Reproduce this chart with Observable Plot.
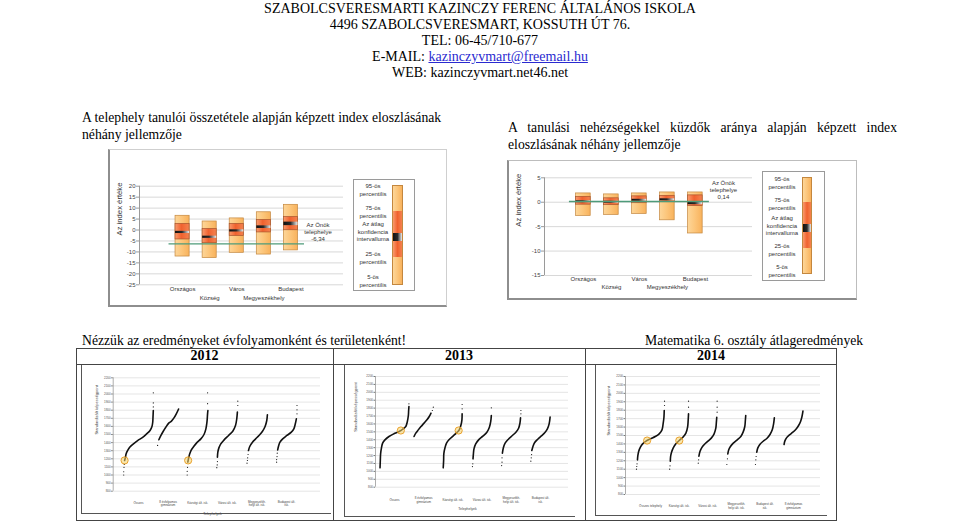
<!DOCTYPE html>
<html><head><meta charset="utf-8">
<script src="https://cdn.jsdelivr.net/npm/d3@7"></script>
<script src="https://cdn.jsdelivr.net/npm/@observablehq/plot@0.6"></script>
<style>
body{margin:0;background:#fff;}
#page{position:relative;width:960px;height:524px;overflow:hidden;font-family:"Liberation Serif","Times New Roman",serif;color:#000;background:#fff;}
.abs{position:absolute;}
.hdr{position:absolute;left:0;width:960px;text-align:center;font-size:14px;line-height:16px;}
.hdr a{color:#2a2ad0;text-decoration:underline;}
.para{position:absolute;font-size:13.7px;line-height:17px;white-space:nowrap;}
.leg{position:absolute;border:1px solid #9a9a9a;box-sizing:border-box;background:#fff;}
.legtxt{position:absolute;width:44px;text-align:center;font-family:"Liberation Sans",Arial,sans-serif;font-size:6px;line-height:7.5px;color:#333;}
.seg{position:absolute;left:0;width:100%;}
.line{position:absolute;background:#444;}
.year{position:absolute;font-weight:bold;font-size:14px;text-align:center;line-height:16px;}
</style></head>
<body>
<svg width="0" height="0" style="position:absolute">
 <defs>
  <linearGradient id="gLight" x1="0" x2="1" y1="0" y2="0">
   <stop offset="0" stop-color="#fdd699"/><stop offset="0.5" stop-color="#fcc57a"/><stop offset="1" stop-color="#f8b25c"/>
  </linearGradient>
  <linearGradient id="gRed" x1="0" x2="1" y1="0" y2="0">
   <stop offset="0" stop-color="#f99a6c"/><stop offset="0.45" stop-color="#f0622f"/><stop offset="1" stop-color="#f4824f"/>
  </linearGradient>
  <linearGradient id="gCI" x1="0" x2="1" y1="0" y2="0">
   <stop offset="0" stop-color="#111"/><stop offset="0.5" stop-color="#2a2a2a"/><stop offset="1" stop-color="#eeeeee"/>
  </linearGradient>
 </defs>
</svg>
<div id="page"></div>
<script>
// ---------- Top charts: index distributions ----------
const boxCategories = ["Országos", "Község", "Város", "Megyeszékhely", "Budapest"];

// A telephely tanulói összetétele alapján képzett index
const compP5   = [-12.1, -12.8, -10.4, -11.2, -9.3];
const compP25  = [-4.3, -6.0, -2.7, -1.1, -0.1];
const compMean = [-1.1, -3.3, -0.4, 1.3, 2.8];
const compP75  = [2.8, 0.5, 2.8, 4.6, 5.9];
const compP95  = [6.5, 3.9, 5.3, 8.1, 11.5];
const compCI   = [0.5, 0.5, 0.5, 0.6, 0.8];
const compSite = -6.34;
const compTicks = [20, 15, 10, 5, 0, -5, -10, -15, -20, -25];

// A tanulási nehézségekkel küzdők aránya alapján képzett index
const ldP5   = [-2.8, -2.6, -2.4, -3.7, -6.4];
const ldP25  = [-0.5, -0.6, -0.2, 0.0, -0.8];
const ldMean = [0.1, 0.0, 0.4, 0.5, -0.2];
const ldP75  = [1.1, 0.8, 1.2, 1.3, 1.4];
const ldP95  = [1.8, 1.6, 1.8, 2.0, 2.0];
const ldCI   = [0.2, 0.2, 0.2, 0.2, 0.3];
const ldSite = 0.14;
const ldTicks = [5, 0, -5, -10, -15];

const legendLabels = [["95-ös", "percentilis"], ["75-ös", "percentilis"], ["Az átlag", "konfidencia", "intervalluma"], ["25-ös", "percentilis"], ["5-ös", "percentilis"]];

// ---------- Bottom charts: Matematika 6. osztály ----------
const scoreTicks = [800, 900, 1000, 1100, 1200, 1300, 1400, 1500, 1600, 1700, 1800, 1900, 2000, 2100, 2200];
const years = ["2012", "2013", "2014"];

const cats2012 = ["Összes", "8 évfolyamos\ngimnázium", "Községi ált. isk.", "Városi ált. isk.", "Megyeszékh.\nhelyi ált. isk.", "Budapest ált.\nisk."];
const rankWidth2012 = [1.0, 0.71, 0.71, 0.71, 0.71, 0.71];
const curves2012 = [
  [[0.03,1180],[0.06,1220],[0.08,1260],[0.13,1300],[0.21,1345],[0.33,1385],[0.47,1425],[0.64,1465],[0.78,1510],[0.89,1550],[0.955,1600],[0.98,1650],[0.99,1715],[1,1795]],
  [[0.06,1435],[0.16,1488],[0.27,1540],[0.39,1590],[0.53,1640],[0.66,1665],[0.78,1705],[0.89,1755],[1,1815]],
  [[0.03,1160],[0.06,1200],[0.11,1253],[0.18,1302],[0.31,1352],[0.46,1400],[0.65,1446],[0.8,1500],[0.89,1570],[0.94,1652],[0.97,1755],[0.985,1796]],
  [[0.03,1220],[0.05,1282],[0.1,1335],[0.19,1385],[0.35,1434],[0.56,1488],[0.76,1541],[0.89,1611],[0.95,1693],[0.98,1776]],
  [[0.1,1302],[0.16,1352],[0.29,1405],[0.44,1446],[0.6,1488],[0.76,1537],[0.89,1599],[0.97,1673],[1,1743]],
  [[0.08,1310],[0.13,1364],[0.19,1405],[0.32,1446],[0.52,1488],[0.73,1529],[0.85,1570],[0.92,1632],[0.97,1693]]
];
const tails2012 = [
  [[0,1000],[0,1040],[0.01,1095],[0.02,1130],[1,1840],[1,1890],[1,2015]],
  [[0,1365]],
  [[0,1000],[0,1045],[0.015,1095],[0.97,1880],[0.97,2015]],
  [[0,1090],[0.02,1125],[0.03,1166],[1,1858],[1,1912]],
  [[0.03,1146],[0.05,1179],[0.06,1212],[0.08,1253]],
  [[0.03,1158],[0.03,1191],[0.05,1228],[0.06,1269],[1,1755],[1,1805],[1,1858]]
];
const siteScore2012 = 1180, siteCats2012 = [0, 2], siteRanks2012 = [0.03, 0.045];

const cats2013 = ["Összes", "8 évfolyamos\ngimnázium", "Községi ált. isk.", "Városi ált. isk.", "Megyeszékh.\nhelyi ált. isk.", "Budapest ált.\nisk."];
const rankWidth2013 = [0.99, 0.66, 0.66, 0.66, 0.66, 0.66];
const curves2013 = [
  [[0,1045],[0.01,1137],[0.02,1222],[0.05,1298],[0.09,1357],[0.17,1399],[0.31,1441],[0.48,1475],[0.66,1504],[0.79,1534],[0.89,1567],[0.94,1622],[0.98,1707],[0.99,1770],[1,1820]],
  [[0,1441],[0.09,1483],[0.22,1525],[0.36,1567],[0.52,1610],[0.67,1652],[0.79,1694],[0.88,1736]],
  [[0,1045],[0.02,1137],[0.03,1222],[0.09,1298],[0.17,1357],[0.31,1403],[0.52,1449],[0.69,1487],[0.83,1525],[0.91,1576],[0.97,1652],[0.98,1728]],
  [[0.03,1158],[0.05,1222],[0.08,1285],[0.17,1348],[0.32,1399],[0.54,1445],[0.75,1496],[0.88,1559],[0.95,1631],[0.98,1707]],
  [[0.04,1230],[0.09,1298],[0.18,1357],[0.35,1407],[0.56,1454],[0.74,1496],[0.88,1546],[0.95,1610],[0.98,1677]],
  [[0.05,1264],[0.11,1315],[0.2,1365],[0.36,1407],[0.55,1449],[0.73,1492],[0.86,1538],[0.95,1601],[1,1686]]
];
const tails2013 = [
  [[1,1854]],
  [[0.95,1770],[1,1812]],
  [[0.98,1791],[0.98,1846]],
  [[0,1061],[0.02,1095],[0.98,1804]],
  [[0,1074],[0.02,1116],[0.02,1171],[1,1728],[1,1770]],
  [[0,1129],[0.02,1171],[0.04,1213]]
];
const siteScore2013 = 1517, siteCats2013 = [0, 2], siteRanks2013 = [0.72, 0.8];

const cats2014 = ["Összes telephely", "Községi ált. isk.", "Városi ált. isk.", "Megyeszékh.\nhelyi ált. isk.", "Budapest ált.\nisk.", "8 évfolyamos\ngimnázium"];
const rankWidth2014 = [0.98, 0.66, 0.66, 0.66, 0.66, 0.66];
const curves2014 = [
  [[0.035,1211],[0.05,1263],[0.08,1314],[0.14,1362],[0.22,1401],[0.34,1433],[0.49,1460],[0.67,1488],[0.81,1520],[0.91,1567],[0.95,1638],[0.98,1717],[0.99,1797]],
  [[0.035,1195],[0.05,1251],[0.1,1302],[0.19,1354],[0.33,1401],[0.51,1441],[0.7,1480],[0.86,1528],[0.95,1599],[0.98,1678],[1,1757]],
  [[0.035,1255],[0.09,1310],[0.18,1354],[0.32,1393],[0.51,1433],[0.7,1472],[0.84,1520],[0.93,1587],[0.96,1658],[0.98,1717]],
  [[0.05,1282],[0.1,1330],[0.19,1369],[0.34,1409],[0.55,1449],[0.74,1488],[0.86,1540],[0.95,1607],[0.98,1678],[1,1737]],
  [[0.07,1302],[0.12,1350],[0.23,1393],[0.39,1429],[0.6,1464],[0.77,1512],[0.89,1567],[0.96,1638],[1,1710]],
  [[0,1393],[0.04,1433],[0.13,1472],[0.27,1504],[0.45,1536],[0.63,1575],[0.77,1619],[0.88,1670],[0.95,1725],[1,1789]]
];
const tails2014 = [
  [[0,1100],[0.01,1132],[0.02,1164],[1,1856],[1,1907]],
  [[0,1100],[0.02,1140],[1,1836],[1,1907]],
  [[0,1172],[0.02,1211],[1,1777],[1,1836],[1,1907]],
  [[0,1156],[0.03,1223]],
  [[0,1156],[0.02,1211],[0.035,1251]],
  []
];
const siteScore2014 = 1440, siteCats2014 = [0, 1], siteRanks2014 = [0.38, 0.51];

// ---------- page scaffolding ----------
const page = document.getElementById("page");
function add(html) { page.insertAdjacentHTML("beforeend", html); }
function place(el, left, top) { el.style.position = "absolute"; el.style.left = left + "px"; el.style.top = top + "px"; page.appendChild(el); }

add(`<div class="hdr" style="top:1px">SZABOLCSVERESMARTI KAZINCZY FERENC ÁLTALÁNOS ISKOLA<br>4496 SZABOLCSVERESMART, KOSSUTH ÚT 76.<br>TEL: 06-45/710-677<br>E-MAIL: <a>kazinczyvmart@freemail.hu</a><br>WEB: kazinczyvmart.net46.net</div>`);
add(`<div class="para" style="left:82px;top:109px">A telephely tanulói összetétele alapján képzett index eloszlásának<br>néhány jellemzője</div>`);
add(`<div class="para" style="left:508px;top:119px;width:389px;white-space:normal"><div style="text-align:justify;text-align-last:justify">A tanulási nehézségekkel küzdők aránya alapján képzett index</div><div>eloszlásának néhány jellemzője</div></div>`);

// frames of top charts
add(`<div class="abs" style="left:108px;top:149px;width:339px;height:158px;box-sizing:border-box;border:1px solid #cfcfcf;border-left:2px solid #8e8e8e;border-bottom:2px solid #8e8e8e"></div>`);
add(`<div class="abs" style="left:507px;top:160px;width:350px;height:140px;box-sizing:border-box;border:1px solid #bdbdbd;border-left:2px solid #8e8e8e;border-bottom:2px solid #8e8e8e"></div>`);

function boxChart(o) {
  const n = boxCategories.length;
  const rows = boxCategories.map((c, i) => ({i, c, p5: o.p5[i], p25: o.p25[i], mean: o.mean[i], p75: o.p75[i], p95: o.p95[i], ci: o.ci[i]}));
  const yMin = d3.min(o.ticks), yMax = d3.max(o.ticks);
  const label = `Az Önök\ntelephelye\n${String(o.site).replace(".", ",")}`;
  const hw = 0.26;
  return Plot.plot({
    width: o.width, height: o.height,
    marginLeft: o.ml, marginRight: o.mr, marginTop: o.mt, marginBottom: o.mb,
    x: {domain: o.xDomain, axis: null},
    y: {domain: [yMin, yMax], label: null},
    style: {fontFamily: "'Liberation Sans', Arial, sans-serif", fontSize: "6px", color: "#333", background: "transparent", overflow: "visible"},
    marks: [
      Plot.gridY({ticks: o.ticks, stroke: "#d8d8d8", strokeOpacity: 1}),
      Plot.ruleX([o.xDomain[0]], {stroke: "#9a9a9a"}),
      Plot.axisY({ticks: o.ticks, tickSize: 3, tickPadding: 1, label: null, stroke: "#9a9a9a", fill: "#444", fontSize: 6, tickFormat: d => String(d)}),
      Plot.text(["Az index értéke"], {frameAnchor: "left", rotate: -90, dx: o.titleDx, fontSize: 7.7, fill: "#333"}),
      Plot.rect(rows, {x1: d => d.i - hw, x2: d => d.i + hw, y1: "p5", y2: "p95", fill: "url(#gLight)", stroke: "#c4873e", strokeWidth: 0.7}),
      Plot.rect(rows, {x1: d => d.i - hw, x2: d => d.i + hw, y1: "p25", y2: "p75", fill: "url(#gRed)", stroke: "#a8552e", strokeWidth: 0.7}),
      Plot.rect(rows, {x1: d => d.i - hw, x2: d => d.i + hw, y1: d => d.mean - d.ci, y2: d => d.mean + d.ci, fill: "url(#gCI)"}),
      Plot.ruleY([o.site], {x1: -0.5, x2: n - 0.5, stroke: "#4e9b7a", strokeWidth: 1.4}),
      Plot.text([label], {x: () => n, y: () => o.site, dy: -12, lineHeight: 1.2, fill: "#333", fontSize: 6}),
      Plot.text(rows.filter(d => d.i % 2 === 0), {x: "i", y: () => yMin, text: "c", dy: o.lab1, fill: "#333", fontSize: 6}),
      Plot.text(rows.filter(d => d.i % 2 === 1), {x: "i", y: () => yMin, text: "c", dy: o.lab2, fill: "#333", fontSize: 6})
    ]
  });
}

place(boxChart({p5: compP5, p25: compP25, mean: compMean, p75: compP75, p95: compP95, ci: compCI, site: compSite, ticks: compTicks,
  width: 339, height: 158, ml: 31, mr: 104, mt: 36.7, mb: 22.7, xDomain: [-1.59, 5.94], lab1: 4, lab2: 13, titleDx: -20}), 108, 149);
place(boxChart({p5: ldP5, p25: ldP25, mean: ldMean, p75: ldP75, p95: ldP95, ci: ldCI, site: ldSite, ticks: ldTicks,
  width: 350, height: 140, ml: 37, mr: 105, mt: 17.3, mb: 25, xDomain: [-1.39, 6.04], lab1: 4, lab2: 12, titleDx: -26}), 507, 160);

// legends (HTML)
function legend(box, bar, segs, labelX, labelYs) {
  let h = `<div class="leg" style="left:${box[0]}px;top:${box[1]}px;width:${box[2]}px;height:${box[3]}px"></div>`;
  h += `<div class="abs" style="left:${bar[0]}px;top:${bar[1]}px;width:${bar[2]}px;height:${bar[3]}px;box-sizing:border-box;border:0.7px solid #c4873e;overflow:hidden">`;
  let y = 0;
  const fills = ["linear-gradient(90deg,#fdd699,#fcc57a,#f8b25c)", "linear-gradient(90deg,#f99a6c,#f0622f,#f4824f)", "linear-gradient(90deg,#111,#2a2a2a,#eee)", "linear-gradient(90deg,#f99a6c,#f0622f,#f4824f)", "linear-gradient(90deg,#fdd699,#fcc57a,#f8b25c)"];
  segs.forEach((s, k) => { h += `<div class="seg" style="top:${y}px;height:${s}px;background:${fills[k]}"></div>`; y += s; });
  h += `</div>`;
  legendLabels.forEach((lines, k) => {
    const top = labelYs[k] - 3.75;
    h += `<div class="legtxt" style="left:${labelX - 22}px;top:${top}px">${lines.join("<br>")}</div>`;
  });
  add(h);
}
legend([353, 179, 62, 112], [392, 185, 11, 100], [25, 22, 8, 16, 29], 373, [187, 209, 225, 255, 278]);
legend([762, 171, 63, 110], [802, 177, 10, 97], [24, 22, 8, 16, 27], 782, [180, 201, 219, 247, 268]);

// ---------- bottom section ----------
add(`<div class="para" style="left:82px;top:332px;line-height:17px">Nézzük az eredményeket évfolyamonként és területenként!</div>`);
add(`<div class="para" style="left:645px;top:332px;line-height:17px">Matematika 6. osztály átlageredmények</div>`);
// table
add(`<div class="abs" style="left:76px;top:348px;width:761px;height:173px;box-sizing:border-box;border:1px solid #444"></div>`);
add(`<div class="line" style="left:76px;top:364px;width:761px;height:1px"></div>`);
add(`<div class="line" style="left:333px;top:348px;width:1px;height:173px"></div>`);
add(`<div class="line" style="left:585px;top:348px;width:1px;height:173px"></div>`);
const colBounds = [[76, 333], [333, 585], [585, 837]];
years.forEach((yr, k) => add(`<div class="year" style="left:${colBounds[k][0]}px;width:${colBounds[k][1] - colBounds[k][0]}px;top:348px">${yr}</div>`));
// inner chart frames (left + bottom)
[[81, 365, 250, 149], [344, 365, 231, 152], [595, 365, 232, 151]].forEach(f => {
  add(`<div class="abs" style="left:${f[0]}px;top:${f[1]}px;width:${f[2]}px;height:${f[3]}px;box-sizing:border-box;border-left:1px solid #555;border-bottom:1px solid #555"></div>`);
});

function curveChart(o) {
  const rows = [], tails = [], sites = [];
  o.curves.forEach((pts, i) => pts.forEach(([f, s]) => rows.push({cat: i, x: i + (f - 0.5) * o.widths[i], s})));
  o.tails.forEach((pts, i) => pts.forEach(([f, s]) => tails.push({x: i + (f - 0.5) * o.widths[i], s})));
  o.siteCats.forEach((c, k) => sites.push({x: c + (o.siteRanks[k] - 0.5) * o.widths[c], s: o.siteScore}));
  const labels = o.cats.map((c, i) => ({i, c}));
  const marks = [
    Plot.gridY({ticks: scoreTicks, stroke: "#d4d4d4", strokeOpacity: 1, strokeWidth: 0.6}),
    Plot.ruleX([o.xDomain[0]], {stroke: "#777", strokeWidth: 0.6}),
    Plot.axisY({ticks: scoreTicks, tickSize: 1.5, tickPadding: 1, label: null, stroke: "#777", fill: "#555", fontSize: 3, tickFormat: d => String(d)}),
    Plot.text(["Standardizált képességpont"], {frameAnchor: "left", rotate: -90, dx: o.titleDx, fontSize: 4, fill: "#444"}),
    Plot.text(labels, {x: "i", y: () => 800, text: "c", dy: o.labDy, fontSize: 3, fill: "#444", lineAnchor: "middle", lineHeight: 1.15}),
    Plot.line(rows, {x: "x", y: "s", z: "cat", stroke: "#111", strokeWidth: 1.6, curve: "catmull-rom"}),
    Plot.dot(tails, {x: "x", y: "s", r: 0.6, fill: "#111"}),
    Plot.dot(sites, {x: "x", y: "s", r: 3.6, fill: "#f6d36a", fillOpacity: 0.55, stroke: "#e69a1f", strokeWidth: 0.9})
  ];
  if (o.xTitle) marks.push(Plot.text(["Telephelyek"], {x: () => 2.5, y: () => 800, dy: o.xTitleDy, fontSize: 3.5, fill: "#444"}));
  return Plot.plot({
    width: o.width, height: o.height,
    marginLeft: o.ml, marginRight: o.mr, marginTop: o.mt, marginBottom: o.mb,
    x: {domain: o.xDomain, axis: null},
    y: {domain: [800, 2200], label: null},
    style: {fontFamily: "'Liberation Sans', Arial, sans-serif", fontSize: "3px", background: "transparent", overflow: "visible"},
    marks
  });
}

place(curveChart({cats: cats2012, curves: curves2012, tails: tails2012, widths: rankWidth2012, siteScore: siteScore2012, siteCats: siteCats2012, siteRanks: siteRanks2012,
  width: 252, height: 152, ml: 31.7, mr: 13, mt: 12.3, mb: 26.3, xDomain: [-0.855, 6.149], titleDx: -16.7, labDy: 12, xTitle: true, xTitleDy: 22.3}), 81, 365);
place(curveChart({cats: cats2013, curves: curves2013, tails: tails2013, widths: rankWidth2013, siteScore: siteScore2013, siteCats: siteCats2013, siteRanks: siteRanks2013,
  width: 230, height: 152, ml: 30, mr: 7, mt: 11, mb: 30.3, xDomain: [-0.65, 5.96], titleDx: -20, labDy: 12.8, xTitle: true, xTitleDy: 21.3}), 345, 365);
place(curveChart({cats: cats2014, curves: curves2014, tails: tails2014, widths: rankWidth2014, siteScore: siteScore2014, siteCats: siteCats2014, siteRanks: siteRanks2014,
  width: 232, height: 152, ml: 30, mr: 7, mt: 11, mb: 23, xDomain: [-0.874, 5.944], titleDx: -17, labDy: 11.5, xTitle: false}), 595, 365);
</script>
</body></html>
